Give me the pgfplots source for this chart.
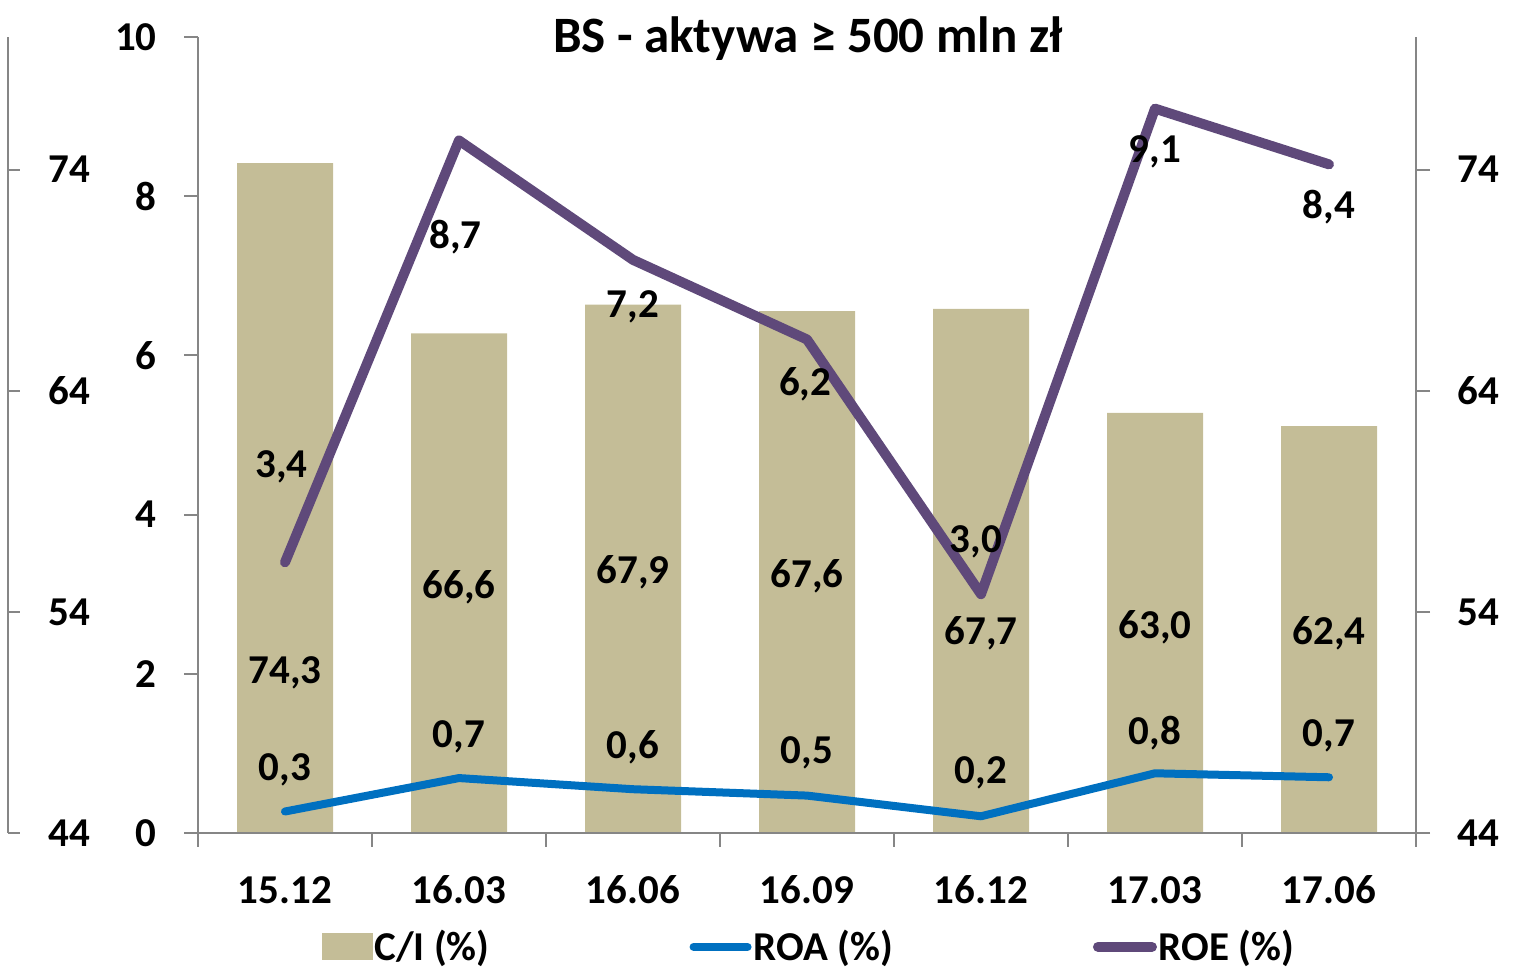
\documentclass[border=0pt]{standalone}
\usepackage{fontspec}
\setmainfont{Carlito}
\usepackage{pgfplots}
\pgfplotsset{compat=1.18}
\definecolor{tanbar}{HTML}{C4BD97}
\definecolor{roe}{HTML}{5F497A}
\definecolor{roa}{HTML}{0070C0}
\definecolor{axgray}{HTML}{868686}
\newcommand{\lf}{\fontsize{20.5}{24}\selectfont\bfseries}
\tikzset{lbl/.style={font=\lf, inner sep=0pt}}
\pgfplotsset{lineleg/.style={legend image code/.code={\draw[##1] (0pt,0pt) -- (27pt,0pt);}},
  barleg/.style={legend image code/.code={\fill[tanbar] (0pt,-6.5pt) rectangle (25pt,6.5pt);}}}
\begin{document}
\begin{tikzpicture}
\useasboundingbox (0,0) rectangle (758pt,484.5pt);
\pgfplotsset{base/.style={scale only axis, width=609pt, height=398pt, anchor=south west,
  xmin=-0.5, xmax=6.5,
  axis line style={draw=axgray, line width=1pt},
  tick style={draw=axgray, line width=1pt},
  major tick length=7pt,
  tick label style={font=\lf},
  /pgf/number format/assume math mode=true}}
% bars (C/I), right axis 44-80
\begin{axis}[base, at={(99pt,68pt)}, ymin=44, ymax=80, ytick={44,54,64,74},
  axis y line*=right, axis x line=none, tick align=outside,
  yticklabel style={anchor=west, inner sep=0pt, xshift=13.5pt}]
\addplot[ybar, bar width=48pt, fill=tanbar, draw=none] coordinates {
(0,74.3) (1,66.6) (2,67.9) (3,67.6) (4,67.7) (5,63.0) (6,62.4)};
\end{axis}
% leftmost axis 44-80
\begin{axis}[scale only axis, width=20pt, height=398pt, anchor=south west, at={(4pt,68pt)},
  xmin=0, xmax=1, ymin=44, ymax=80, ytick={44,54,64,74},
  axis y line*=left, axis x line=none, tick align=inside, major tick length=6pt,
  axis line style={draw=axgray, line width=1pt},
  tick style={draw=axgray, line width=1pt},
  tick label style={font=\lf},
  /pgf/number format/assume math mode=true,
  yticklabel style={anchor=center, inner sep=0pt, xshift=30.5pt}]
\end{axis}
% lines (ROA, ROE), left axis 0-10
\begin{axis}[base, at={(99pt,68pt)}, ymin=0, ymax=10, ytick={0,2,...,10},
  clip=false,
  axis y line*=left, axis x line*=bottom, tick align=outside,
  xtick={-0.5,0.5,...,6.5}, xticklabels={},
  extra x ticks={0,1,2,3,4,5,6},
  extra x tick labels={15.12,16.03,16.06,16.09,16.12,17.03,17.06},
  extra x tick style={major tick length=0pt, xticklabel style={anchor=center, yshift=-28.5pt}},
  yticklabel style={anchor=east, inner sep=0pt, xshift=-13.5pt},
  legend columns=3,
  legend style={at={(axis description cs:0.5016,-0.143)}, anchor=center, draw=none, fill=none,
    font=\lf, nodes={inner sep=1pt},
    /tikz/every even column/.append style={column sep=99pt}}]
\addlegendimage{barleg}
\addlegendentry{C/I (\%)}
\addplot[roa, line width=4pt, line cap=round, line join=round, lineleg] coordinates {
(0,0.27) (1,0.69) (2,0.55) (3,0.47) (4,0.21) (5,0.75) (6,0.70)};
\addlegendentry{ROA (\%)}
\addplot[roe, line width=5pt, line cap=round, line join=round, lineleg] coordinates {
(0,3.4) (1,8.7) (2,7.2) (3,6.2) (4,3.0) (5,9.1) (6,8.4)};
\addlegendentry{ROE (\%)}
% C/I labels
\node[lbl] at (axis cs:0,2.01) {74,3};
\node[lbl] at (axis cs:1,3.09) {66,6};
\node[lbl] at (axis cs:2,3.28) {67,9};
\node[lbl] at (axis cs:3,3.23) {67,6};
\node[lbl] at (axis cs:4,2.51) {67,7};
\node[lbl] at (axis cs:5,2.59) {63,0};
\node[lbl] at (axis cs:6,2.51) {62,4};
% ROE labels
\node[lbl] at (axis cs:-0.02,4.60) {3,4};
\node[lbl] at (axis cs:0.98,7.48) {8,7};
\node[lbl] at (axis cs:2,6.61) {7,2};
\node[lbl] at (axis cs:2.99,5.64) {6,2};
\node[lbl] at (axis cs:3.97,3.66) {3,0};
\node[lbl] at (axis cs:5,8.56) {9,1};
\node[lbl] at (axis cs:6,7.86) {8,4};
% ROA labels
\node[lbl] at (axis cs:0,0.79) {0,3};
\node[lbl] at (axis cs:1,1.21) {0,7};
\node[lbl] at (axis cs:2,1.08) {0,6};
\node[lbl] at (axis cs:3,1.01) {0,5};
\node[lbl] at (axis cs:4,0.75) {0,2};
\node[lbl] at (axis cs:5,1.26) {0,8};
\node[lbl] at (axis cs:6,1.22) {0,7};
\node[font=\fontsize{25.5}{30}\selectfont\bfseries, inner sep=0pt] at (axis description cs:0.5008,0.998) {BS - aktywa ≥ 500 mln zł};
\end{axis}
\end{tikzpicture}
\end{document}
